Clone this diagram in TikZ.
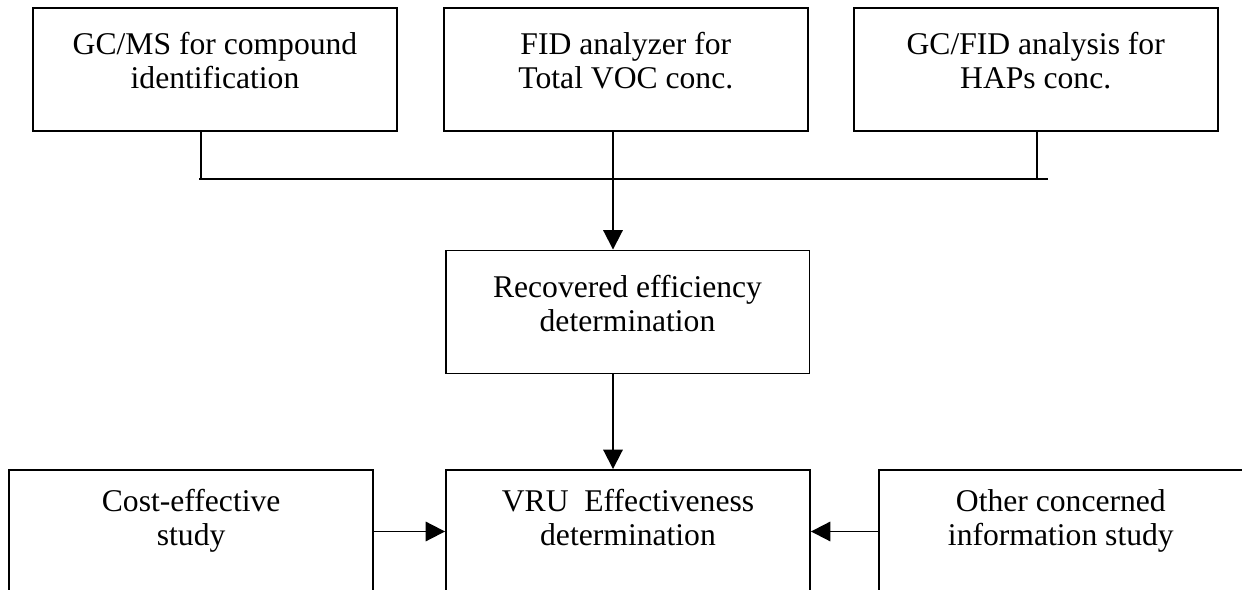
\documentclass[tikz,border=0pt]{standalone}
\usepackage{fontspec}
\setmainfont{Liberation Serif}
\usetikzlibrary{
  arrows.meta,  % 三角形实心箭头
  calc,         % 坐标计算
  positioning   % 节点相对定位
}
\tikzset{
  stage box/.style={
    draw,
    line width=1.1pt,
    minimum width=7.28cm,
    minimum height=2.46cm,
    inner sep=0pt,
    align=center,
    text height=1.1cm,
    text depth=0.32cm,
    font=\fontsize{18}{19.4}\selectfont
  },
  bottom box/.style={
    stage box,
    text depth=0.52cm
  },
  flow arrow/.style={
    -{Triangle[length=11pt, width=11pt]},
    line width=1.1pt
  },
  bus line/.style={
    line width=1.1pt
  }
}

\begin{document}
\begin{tikzpicture}[x=0.02cm, y=-0.02cm]
  % 画面范围（下方三个框被截断）
  \useasboundingbox (0,0) rectangle (1242,590);
  \clip (0,0) rectangle (1242,590);

  % ==== 1. 上方三个分析框 ====
  \node[stage box] (gcms) at (215,69.5) {GC/MS for compound\\identification};
  \node[stage box, right=0.90cm of gcms] (fid) {FID analyzer for\\Total VOC conc.};
  \node[stage box, right=0.88cm of fid] (gcfid) {GC/FID analysis for\\HAPs conc.};

  % 汇总横线
  \coordinate (busL) at (199,179);
  \coordinate (busM) at (613,179);
  \coordinate (busR) at (1048,179);
  \draw[bus line] (busL) -- (busR);
  \draw[bus line] ($(gcms.south)+(-14,0)$) |- (busL);
  \draw[bus line] (fid.south -| busM) -- (busM);
  \draw[bus line] ($(gcfid.south)+(1.5,0)$) |- (busR);

  % ==== 2. 中间效率框 ====
  \node[stage box] (recov) at (627.5,312) {Recovered efficiency\\determination};
  \draw[flow arrow] (busM) -- (busM |- recov.north);

  % ==== 3. 下方一排 ====
  \node[bottom box] (vru) at (628,531.5) {VRU\ \ Effectiveness\\determination};
  \node[bottom box, left=1.42cm of vru] (cost) {Cost-effective\\study};
  \node[bottom box, right=1.34cm of vru] (other) {Other concerned\\information study};

  \draw[flow arrow] (busM |- recov.south) -- (busM |- vru.north);
  \draw[flow arrow] (cost) -- (vru);
  \draw[flow arrow] (other) -- (vru);

\end{tikzpicture}
\end{document}
